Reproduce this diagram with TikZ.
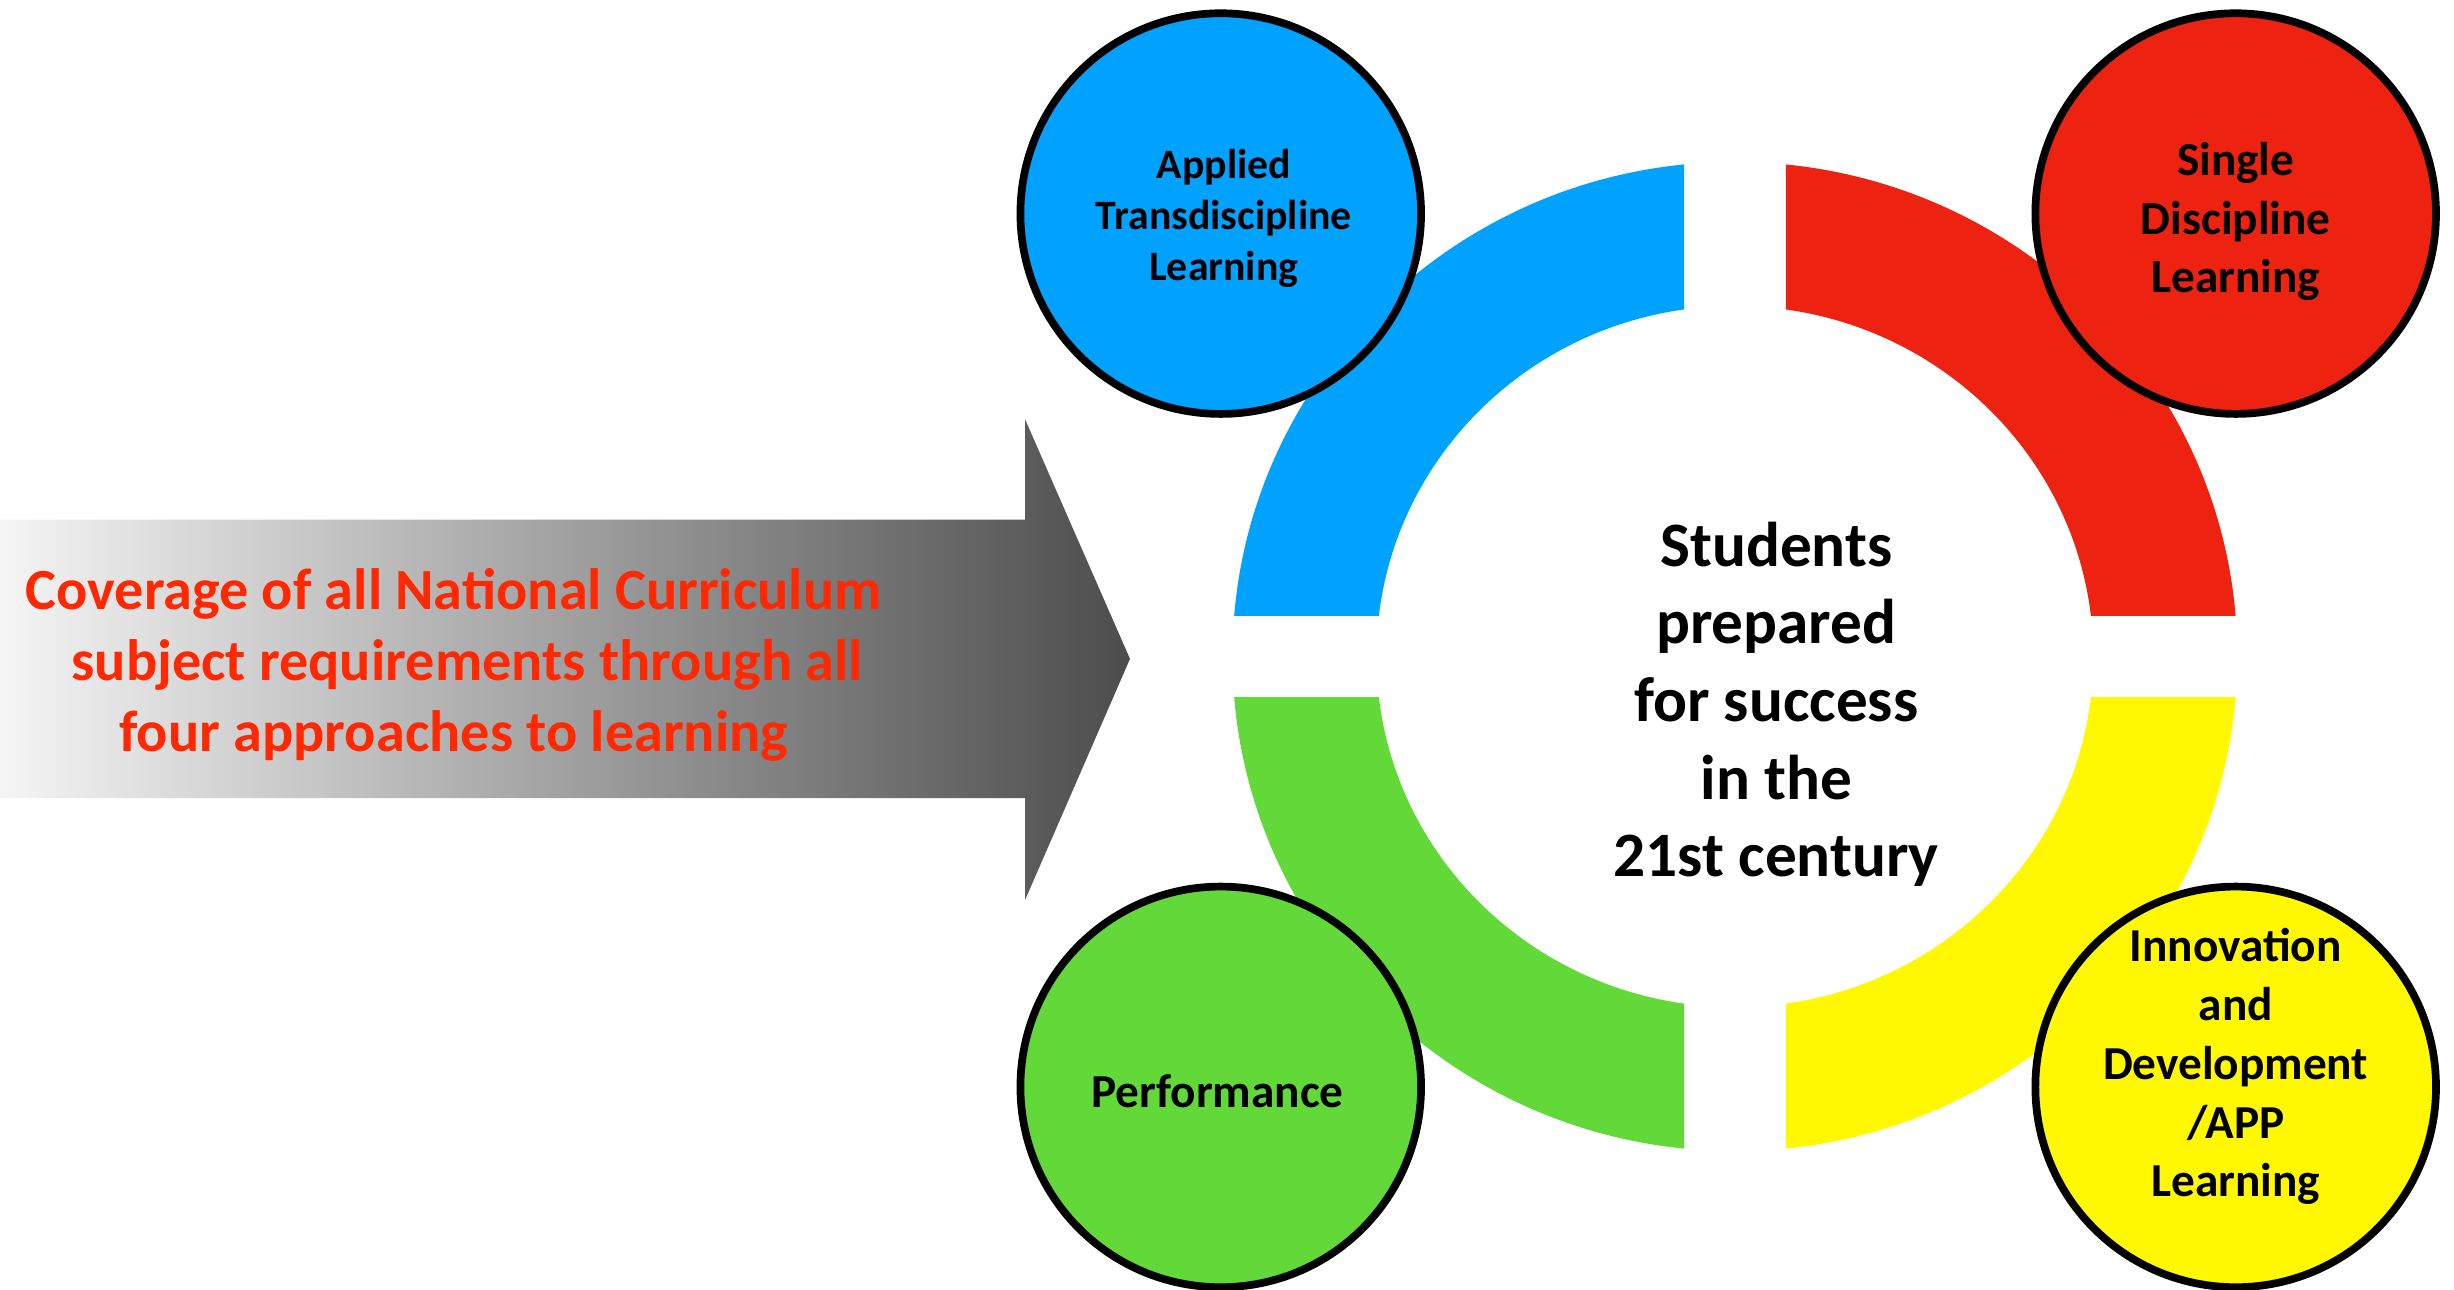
\documentclass[tikz,border=0pt]{standalone}
\usepackage{fontspec}
\setmainfont{Carlito}
\usetikzlibrary{calc}
\definecolor{ablue}{RGB}{0,162,255}
\definecolor{ared}{RGB}{238,34,16}
\definecolor{agreen}{RGB}{98,217,56}
\definecolor{ayellow}{RGB}{255,248,0}
\definecolor{atext}{RGB}{255,40,0}
\tikzset{
	ball/.style={circle,draw=black,line width=1.4pt,minimum size=2.56cm,inner sep=0pt,align=center},
	balltext/.style={align=center,inner sep=0pt,font=\bfseries\fontsize{8.6}{10.7}\selectfont},
}
\begin{document}
\begin{tikzpicture}
\useasboundingbox (0,0) rectangle (15.68,8.24);
\coordinate (ring) at (11.085,4.045);

\shade[left color=white!96!black, right color=black!70] (0,4.92) -- (6.55,4.92) -- (6.55,5.56) -- (7.22,4.03) -- (6.55,2.49) -- (6.55,3.14) -- (0,3.14) -- cycle;
\node[align=center,text=atext,font=\bfseries\fontsize{10.6}{12.9}\selectfont] (cover) at (2.90,3.99) {Coverage of all National Curriculum\\ \hspace*{0.17cm}subject requirements through all\\four approaches to learning};

\foreach \col/\xa/\ya/\xb/\yb in {ablue/7/4.31/10.76/8.24, ared/11.41/4.31/15.68/8.24, agreen/7/0/10.76/3.78, ayellow/11.41/0/15.68/3.78}{
\begin{scope}
\clip (\xa,\ya) rectangle (\xb,\yb);
\fill[\col,even odd rule] (ring) ellipse (3.21 and 3.16) (ring) ellipse (2.29 and 2.24);
\end{scope}
}

\node[align=center,font=\bfseries\fontsize{11.5}{14.1}\selectfont] (students) at (11.35,3.74) {Students\\prepared\\for success\\in the\\21st century};

\node[ball,fill=ablue] (applied) at (7.80,6.875) {};
\node[balltext,font=\bfseries\fontsize{7.6}{9.2}\selectfont] (appliedtext) at ($(applied)+(0.02,-0.03)$) {Applied\\Transdiscipline\\Learning};
\node[ball,fill=ared] (single) at (14.285,6.875) {};
\node[balltext] (singletext) at ($(single)+(0,-0.05)$) {Single\\Discipline\\Learning};
\node[ball,fill=agreen] (perform) at (7.80,1.295) {};
\node[balltext] (performtext) at ($(perform)+(-0.02,-0.03)$) {Performance};
\node[ball,fill=ayellow] (innov) at (14.285,1.295) {};
\node[balltext] (innovtext) at ($(innov)+(0,0.13)$) {Innovation\\and\\Development\\/APP\\Learning};
\end{tikzpicture}
\end{document}
